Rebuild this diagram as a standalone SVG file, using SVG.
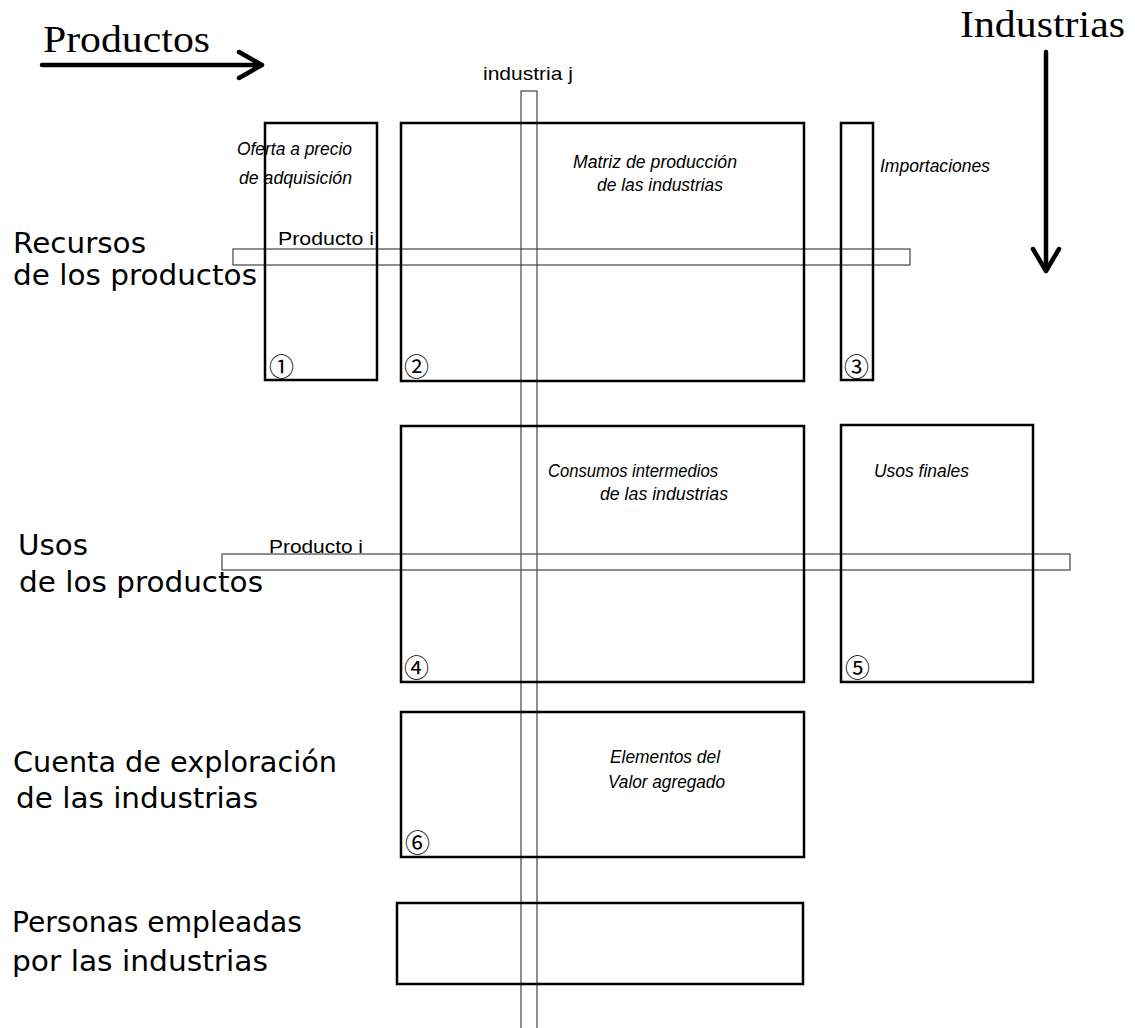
<svg xmlns="http://www.w3.org/2000/svg" width="1135" height="1028" viewBox="0 0 1135 1028">
<style>
.box{fill:none;stroke:#000;stroke-width:2.5}
.band{fill:none;stroke:#444;stroke-width:1.2}
.big{font-family:"Liberation Serif","Times New Roman",serif;font-size:38px;fill:#000}
.lab{font-family:"DejaVu Sans","Liberation Sans",sans-serif;font-size:28px;fill:#000}
.it{font-family:"Liberation Sans",Arial,sans-serif;font-style:italic;font-size:19px;fill:#000}
.sm{font-family:"Liberation Sans",Arial,sans-serif;font-size:19px;fill:#000}
.num{font-family:"Noto Sans CJK JP","DejaVu Sans",sans-serif;font-size:25px;fill:#000}
.arr{fill:none;stroke:#000;stroke-width:4.5;stroke-linecap:round;stroke-linejoin:round}
</style>
<rect width="1135" height="1028" fill="#fff"/>
<g id="titles">
<text class="big" x="43" y="52" textLength="167" lengthAdjust="spacingAndGlyphs">Productos</text>
<text class="big" x="960" y="37" textLength="165" lengthAdjust="spacingAndGlyphs">Industrias</text>
</g>
<g id="connectors">
<path class="arr" d="M42,65 H262 M239,52 L262,65 L239,78"/>
<path class="arr" d="M1046,52 V271 M1033,249 L1046,271 L1059,249"/>
<rect class="band" x="521" y="91" width="16" height="945"/>
<rect class="band" x="233" y="249" width="677" height="16"/>
<rect class="band" x="222" y="554" width="848" height="16"/>
<text class="sm" x="483" y="80" textLength="90" lengthAdjust="spacingAndGlyphs">industria j</text>
<text class="sm" x="278" y="245" textLength="96" lengthAdjust="spacingAndGlyphs">Producto i</text>
<text class="sm" x="269" y="553" textLength="94" lengthAdjust="spacingAndGlyphs">Producto i</text>
</g>
<g id="row-labels">
<text class="lab" x="13" y="253" textLength="133" lengthAdjust="spacingAndGlyphs">Recursos</text>
<text class="lab" x="13" y="285" textLength="244" lengthAdjust="spacingAndGlyphs">de los productos</text>
<text class="lab" x="18" y="555" textLength="70" lengthAdjust="spacingAndGlyphs">Usos</text>
<text class="lab" x="19" y="592" textLength="244" lengthAdjust="spacingAndGlyphs">de los productos</text>
<text class="lab" x="13" y="772" textLength="324" lengthAdjust="spacingAndGlyphs">Cuenta de exploración</text>
<text class="lab" x="16" y="808" textLength="242" lengthAdjust="spacingAndGlyphs">de las industrias</text>
<text class="lab" x="12" y="932" textLength="290" lengthAdjust="spacingAndGlyphs">Personas empleadas</text>
<text class="lab" x="12" y="971" textLength="256" lengthAdjust="spacingAndGlyphs">por las industrias</text>
</g>
<g id="box1">
<rect class="box" x="265" y="123" width="112" height="257"/>
<text class="it" x="237" y="155" textLength="115" lengthAdjust="spacingAndGlyphs">Oferta a precio</text>
<text class="it" x="239" y="184" textLength="113" lengthAdjust="spacingAndGlyphs">de adquisición</text>
<text class="num" x="269" y="376">①</text>
</g>
<g id="box2">
<rect class="box" x="401" y="123" width="403" height="258"/>
<text class="it" x="573" y="168" textLength="164" lengthAdjust="spacingAndGlyphs">Matriz de producción</text>
<text class="it" x="597" y="191" textLength="126" lengthAdjust="spacingAndGlyphs">de las industrias</text>
<text class="num" x="404" y="376">②</text>
</g>
<g id="box3">
<rect class="box" x="841" y="123" width="32" height="257"/>
<text class="it" x="880" y="172" textLength="110" lengthAdjust="spacingAndGlyphs">Importaciones</text>
<text class="num" x="844" y="376">③</text>
</g>
<g id="box4">
<rect class="box" x="401" y="426" width="403" height="256"/>
<text class="it" x="548" y="477" textLength="170" lengthAdjust="spacingAndGlyphs">Consumos intermedios</text>
<text class="it" x="600" y="500" textLength="128" lengthAdjust="spacingAndGlyphs">de las industrias</text>
<text class="num" x="404" y="677">④</text>
</g>
<g id="box5">
<rect class="box" x="841" y="425" width="192" height="257"/>
<text class="it" x="874" y="477" textLength="95" lengthAdjust="spacingAndGlyphs">Usos finales</text>
<text class="num" x="845" y="677">⑤</text>
</g>
<g id="box6">
<rect class="box" x="401" y="712" width="403" height="145"/>
<text class="it" x="610" y="763" textLength="110" lengthAdjust="spacingAndGlyphs">Elementos del</text>
<text class="it" x="608" y="788" textLength="117" lengthAdjust="spacingAndGlyphs">Valor agregado</text>
<text class="num" x="405" y="852">⑥</text>
</g>
<g id="box7">
<rect class="box" x="397" y="903" width="406" height="81"/>
</g>
</svg>
